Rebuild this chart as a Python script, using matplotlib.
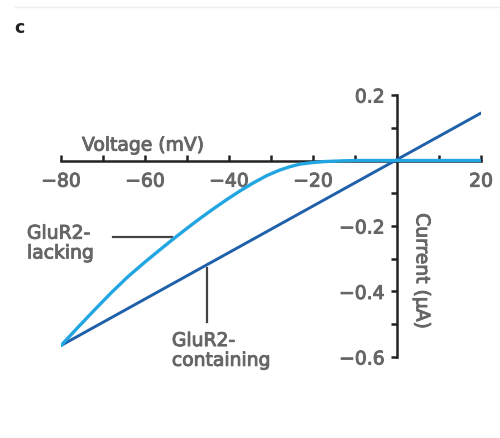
import matplotlib.pyplot as plt
import matplotlib.patheffects as pe
from matplotlib.ticker import FixedLocator

# I-V curves (voltage in mV, current in uA)
volt_lacking = [-80, -76, -72, -67.9, -64, -60, -56.4, -52.9, -49.5, -46.9, -44, -40.5,
                -37.4, -34.3, -31, -27.9, -25.5, -23.1, -20, -17, -13, -10, 0, 20]
curr_lacking = [-0.565, -0.510, -0.456, -0.402, -0.354, -0.310, -0.272, -0.236, -0.202,
                 -0.177, -0.150, -0.119, -0.093, -0.069, -0.046, -0.029, -0.019, -0.011,
                 -0.006, -0.003, -0.001, 0.0, 0.0, 0.0]
volt_containing = [-80, 20]
curr_containing = [-0.565, 0.145]

x_major = [-80, -60, -40, -20, 20]
x_minor = [-70, -50, -30, -10, 0, 10]
y_major = [0.2, -0.2, -0.4, -0.6]
y_minor = [0.1, 0.0, -0.1, -0.3, -0.5]

plt.rcParams['font.family'] = ['DejaVu Sans']
txt = '#666666'
fs = 13.5
# slightly heavier than regular weight
thick = [pe.withStroke(linewidth=0.7, foreground=txt)]

fig = plt.figure(figsize=(5, 4.38), dpi=100)
ax = fig.add_axes([0.122, 0.185, 0.84, 0.598])

ax.plot(volt_containing, curr_containing, color='#1f60aa', lw=2.1, solid_capstyle='round', zorder=3)
ax.plot(volt_lacking, curr_lacking, color='#22a6e2', lw=2.4, solid_capstyle='round',
        solid_joinstyle='round', zorder=4)

ax.set_xlim(-80, 20)
ax.set_ylim(-0.6, 0.2)

for s in ['top', 'right']:
    ax.spines[s].set_visible(False)
for s in ['left', 'bottom']:
    ax.spines[s].set_position(('data', 0))
    ax.spines[s].set_linewidth(1.8)
    ax.spines[s].set_color('#222222')

ax.xaxis.set_major_locator(FixedLocator(x_major))
ax.xaxis.set_minor_locator(FixedLocator(x_minor))
ax.yaxis.set_major_locator(FixedLocator(y_major))
ax.yaxis.set_minor_locator(FixedLocator(y_minor))
ax.set_xticklabels([str(v).replace('-', '\u2212') for v in x_major])
ax.set_yticklabels([('%.1f' % v).replace('-', '\u2212') for v in y_major])

ax.tick_params(axis='x', which='both', direction='in', length=4, width=1.8,
               color='#222222', labelsize=fs, labelcolor=txt, pad=8)
ax.tick_params(axis='y', which='both', direction='out', length=4, width=1.8,
               color='#222222', labelsize=fs, labelcolor=txt, pad=5)
for lab in ax.get_xticklabels() + ax.get_yticklabels():
    lab.set_path_effects(thick)

ax.text(-75, 0.047, 'Voltage (mV)', fontsize=fs, color=txt, ha='left', va='center',
        path_effects=thick)
ax.text(6.0, -0.338, 'Current (\u03bcA)', fontsize=fs, color=txt, rotation=-90,
        ha='center', va='center', path_effects=thick)

# labels with leader lines
ax.text(-88.1, -0.252, 'GluR2-\nlacking', fontsize=fs, color=txt, ha='left', va='center',
        linespacing=1.05, path_effects=thick)
ax.plot([-67.6, -53.5], [-0.234, -0.234], color='#444444', lw=1.6)
ax.text(-53.6, -0.580, 'GluR2-\ncontaining', fontsize=fs, color=txt, ha='left', va='center',
        linespacing=1.05, path_effects=thick)
ax.plot([-45.2, -45.2], [-0.329, -0.494], color='#444444', lw=1.6)

fig.text(0.028, 0.936, 'c', fontsize=12.5, fontweight='bold', color='#222222', ha='left', va='center')
fig.add_artist(plt.Line2D([0.03, 1.0], [0.985, 0.985], color='#eeeeee', lw=1.0))

fig.savefig('out.png', dpi=100)
